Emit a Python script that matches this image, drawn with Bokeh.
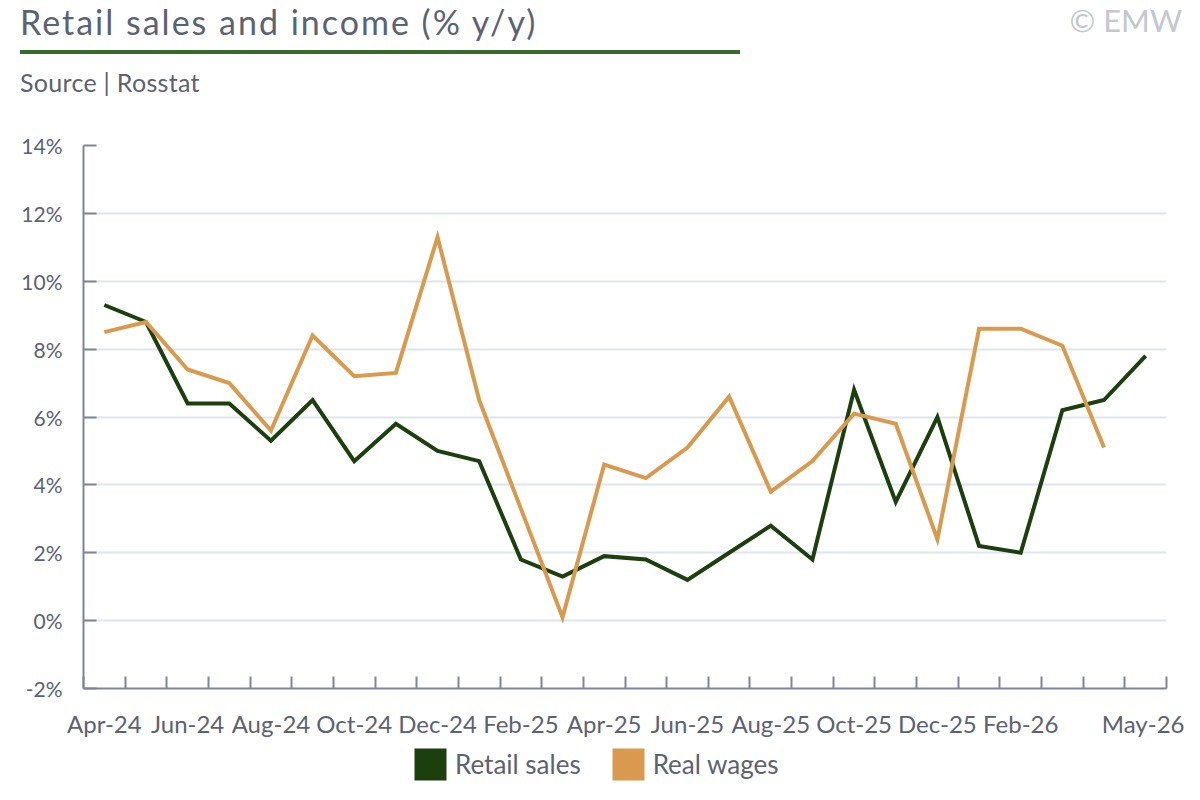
from bokeh.plotting import figure
from bokeh.layouts import column
from bokeh.models import Range1d, FixedTicker, Legend, LegendItem, Div
from bokeh.embed import file_html
from bokeh.resources import INLINE

# ---- data ----
months = ["Apr-24", "May-24", "Jun-24", "Jul-24", "Aug-24", "Sep-24", "Oct-24", "Nov-24",
          "Dec-24", "Jan-25", "Feb-25", "Mar-25", "Apr-25", "May-25", "Jun-25", "Jul-25",
          "Aug-25", "Sep-25", "Oct-25", "Nov-25", "Dec-25", "Jan-26", "Feb-26", "Mar-26",
          "Apr-26", "May-26"]
retail_sales = [9.3, 8.8, 6.4, 6.4, 5.3, 6.5, 4.7, 5.8, 5.0, 4.7, 1.8, 1.3, 1.9, 1.8, 1.2,
                2.0, 2.8, 1.8, 6.8, 3.5, 6.0, 2.2, 2.0, 6.2, 6.5, 7.8]
real_wages = [8.5, 8.8, 7.4, 7.0, 5.6, 8.4, 7.2, 7.3, 11.3, 6.5, 3.3, 0.1, 4.6, 4.2, 5.1,
              6.6, 3.8, 4.7, 6.1, 5.8, 2.4, 8.6, 8.6, 8.1, 5.1]
tick_labels = ["Apr-24", "Jun-24", "Aug-24", "Oct-24", "Dec-24", "Feb-25", "Apr-25",
               "Jun-25", "Aug-25", "Oct-25", "Dec-25", "Feb-26", "May-26"]
y_ticks = [-2, 0, 2, 4, 6, 8, 10, 12, 14]
series_names = ["Retail sales", "Real wages"]
title_text = "Retail sales and income (% y/y)"
source_text = "Source | Rosstat"
credit_text = "© EMW"

# ---- style ----
FONT = "Lato"
TEXT = "#5b6272"
AXIS = "#7d8699"
GRID = "#dce5f0"
GREEN = "#1c3f0e"
ORANGE = "#d99a4e"
RULE = "#376b2b"
CREDIT = "#c3c7ce"

W = 1184
HH, MH, FH = 120, 620, 44          # header, main, footer heights (total 784)
L, R, T, B = 83, 18, 25, 52
n = len(months)

# ---- header (title, rule, source, credit) ----
header_html = f"""
<div style="position:relative;width:{W}px;height:{HH}px;font-family:'{FONT}';color:{TEXT};">
  <div style="position:absolute;left:20px;top:5px;font-size:34px;line-height:1;
              letter-spacing:2px;white-space:nowrap;">{title_text}</div>
  <div style="position:absolute;left:20px;top:50px;width:720px;height:4px;background:{RULE};"></div>
  <div style="position:absolute;left:20px;top:70px;font-size:25px;line-height:1;
              letter-spacing:0.3px;white-space:nowrap;">{source_text}</div>
  <div style="position:absolute;right:2px;top:5px;font-size:31px;line-height:1;
              color:{CREDIT};white-space:nowrap;">{credit_text}</div>
</div>
"""
hdr = Div(text=header_html, width=W, height=HH, margin=0)

# ---- main chart ----
p = figure(width=W, height=MH, output_backend="svg", toolbar_location=None,
           x_range=Range1d(0, n), y_range=Range1d(y_ticks[0], y_ticks[-1]),
           min_border_left=L, min_border_right=R, min_border_top=T, min_border_bottom=B)
p.title.visible = False
p.outline_line_color = None

xs = [i + 0.5 for i in range(n)]
p.line(xs, retail_sales, line_color=GREEN, line_width=4, line_join="miter")
p.line(xs[:len(real_wages)], real_wages, line_color=ORANGE, line_width=4, line_join="miter")

xt = [months.index(m) + 0.5 for m in tick_labels]
xa = p.xaxis[0]
xa.ticker = FixedTicker(ticks=xt, minor_ticks=list(range(n + 1)))
xa.major_label_overrides = {t: m for t, m in zip(xt, tick_labels)}
xa.major_tick_in = 0
xa.major_tick_out = 0
xa.minor_tick_in = 12
xa.minor_tick_out = 0
xa.minor_tick_line_color = AXIS
xa.minor_tick_line_width = 2
xa.axis_line_color = AXIS
xa.axis_line_width = 2
xa.major_label_text_font = FONT
xa.major_label_text_font_size = "24px"
xa.major_label_text_color = TEXT
xa.major_label_standoff = 20

ya = p.yaxis[0]
ya.ticker = FixedTicker(ticks=y_ticks)
ya.major_label_overrides = {t: f"{t}%" for t in y_ticks}
ya.major_tick_in = 13
ya.major_tick_out = 0
ya.minor_tick_in = 0
ya.minor_tick_out = 0
ya.major_tick_line_color = AXIS
ya.major_tick_line_width = 2
ya.axis_line_color = AXIS
ya.axis_line_width = 2
ya.major_label_text_font = FONT
ya.major_label_text_font_size = "21px"
ya.major_label_text_color = TEXT
ya.major_label_standoff = 21

p.xgrid.visible = False
p.ygrid.ticker = FixedTicker(ticks=y_ticks)
p.ygrid.grid_line_color = GRID
p.ygrid.grid_line_width = 2

# ---- footer legend (square swatches) ----
ftr = figure(width=W, height=FH, output_backend="svg", toolbar_location=None,
             x_range=Range1d(0, 1), y_range=Range1d(0, 1),
             x_axis_location=None, y_axis_location=None, min_border=0)
ftr.grid.visible = False
ftr.outline_line_color = None
ftr.title.visible = False
nan = float("nan")
q1 = ftr.quad(left=[nan], right=[nan], top=[nan], bottom=[nan], fill_color=GREEN, line_color=None)
q2 = ftr.quad(left=[nan], right=[nan], top=[nan], bottom=[nan], fill_color=ORANGE, line_color=None)
legend = Legend(items=[LegendItem(label=series_names[0], renderers=[q1]),
                       LegendItem(label=series_names[1], renderers=[q2])],
                location=(410 - L, 0), orientation="horizontal",
                glyph_width=40, glyph_height=40, padding=0, margin=0, spacing=27,
                label_standoff=5, border_line_color=None, background_fill_alpha=0,
                label_text_font=FONT, label_text_font_size="26px", label_text_color=TEXT)
ftr.add_layout(legend, "center")

layout = column(hdr, p, ftr, spacing=0)
open("out.html", "w").write(file_html(layout, INLINE))
